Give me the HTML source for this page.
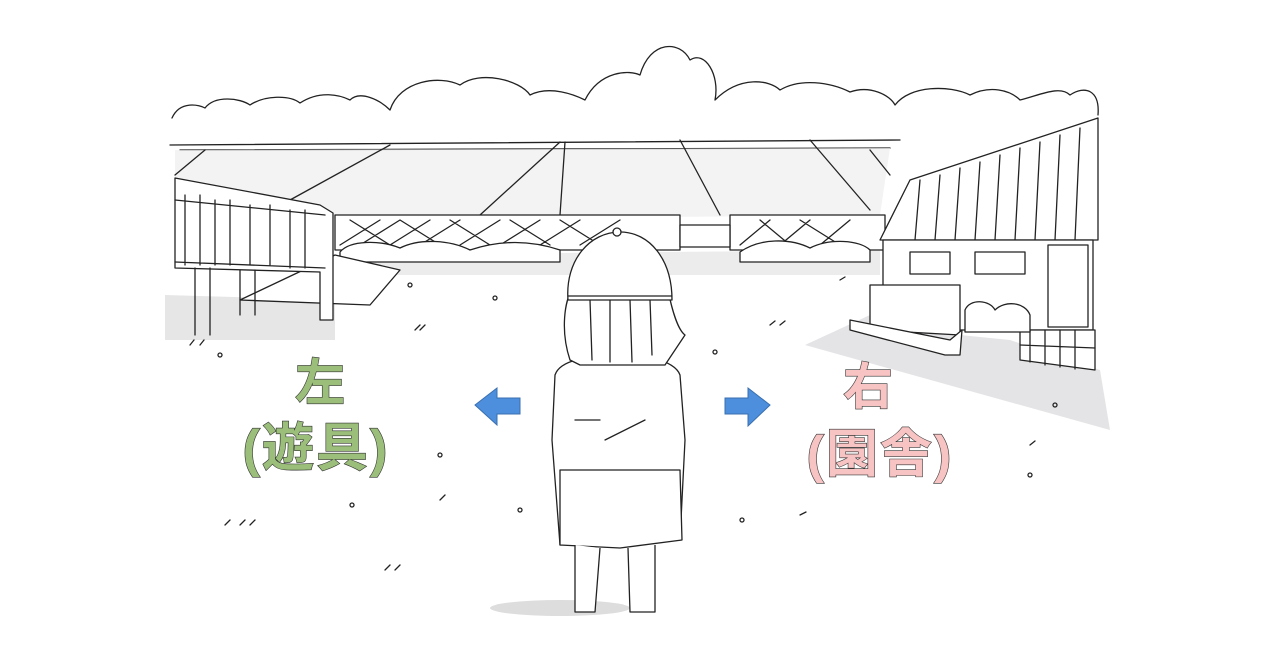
<!DOCTYPE html>
<html><head><meta charset="utf-8"><style>
html,body{margin:0;padding:0;background:#fff;width:1280px;height:670px;overflow:hidden}
svg{display:block}
.l{fill:none;stroke:#222;stroke-width:1.3;stroke-linejoin:round;stroke-linecap:round}
.w{fill:#fff;stroke:#222;stroke-width:1.3;stroke-linejoin:round}
.t{font-family:"Liberation Sans","Noto Sans CJK JP",sans-serif;font-weight:bold;stroke:#333;stroke-width:1.2;paint-order:stroke}
</style></head><body>
<svg width="1280" height="670" viewBox="0 0 1280 670">
<polygon points="165,295 335,300 335,340 165,340" fill="#e6e6e6"/>
<polygon points="805,345 870,315 960,335 1010,340 1100,370 1110,430" fill="#e4e4e6"/>
<polygon points="340,255 880,250 880,275 340,275" fill="#ececec"/>
<ellipse cx="560" cy="608" rx="70" ry="8" fill="#ddd"/>
<path class="l" d="M172,118 C180,100 200,105 205,108 C215,95 240,98 250,105 C265,95 290,95 300,103 C320,90 340,95 350,100 C360,90 380,100 390,110 C400,80 440,75 460,85 C480,70 520,80 530,95 C550,85 575,95 585,100 C600,70 630,70 640,75 C650,40 680,40 690,60 C705,50 720,75 715,100 C740,75 770,80 780,90 C800,78 830,82 850,92 C870,85 890,95 895,105 C910,85 950,85 970,95 C990,85 1010,90 1020,100 C1040,95 1060,85 1070,95 C1085,85 1100,90 1098,115"/>
<path class="l" d="M170,145 L900,140 M180,150 L890,148"/>
<polygon points="175,150 890,148 880,215 340,220 175,180" fill="#eeeeee" opacity="0.7"/>
<path class="l" d="M175,175 L205,150 M290,200 L390,145 M480,215 L560,142 M560,215 L565,142 M680,140 L720,215 M810,140 L870,210 M890,175 L870,150"/>
<rect class="w" x="335" y="215" width="345" height="35"/>
<rect class="w" x="730" y="215" width="155" height="35"/>
<rect class="w" x="680" y="225" width="50" height="22"/>
<path class="l" d="M340,245 L380,220 M360,245 L400,220 M390,245 L430,220 M420,245 L460,220 M460,245 L500,220 M500,245 L540,220 M540,245 L580,220 M580,245 L620,220 M740,245 L770,220 M780,245 L810,220 M820,245 L850,220 M350,220 L390,245 M400,220 L440,245 M450,220 L490,245 M510,220 L550,245 M560,220 L600,245 M760,220 L790,245 M800,220 L840,245"/>
<path class="w" d="M340,252 C350,240 380,240 400,248 C420,238 450,240 470,250 C500,240 530,240 560,250 L560,262 L340,262 Z"/>
<path class="w" d="M740,252 C760,238 790,238 810,248 C830,238 860,240 870,250 L870,262 L740,262 Z"/>
<path class="w" d="M335,255 L400,270 L370,305 L240,300 Z"/>
<path class="w" d="M175,178 L320,205 L333,213 L333,320 L320,320 L320,272 L175,268 Z"/>
<path class="l" d="M175,200 L325,215 M185,195 L185,265 M200,195 L200,265 M215,200 L215,265 M230,200 L230,265 M250,205 L250,265 M270,205 L270,265 M290,210 L290,268 M305,210 L305,268 M195,268 L195,335 M210,268 L210,335 M240,270 L240,315 M255,270 L255,315 M175,262 L325,268"/>
<path class="w" d="M880,240 L910,180 L1098,118 L1098,240 Z"/>
<path class="l" d="M920,180 L915,240 M940,175 L935,240 M960,168 L955,240 M980,162 L975,240 M1000,155 L995,240 M1020,148 L1015,240 M1040,142 L1035,240 M1060,135 L1055,240 M1080,128 L1075,240"/>
<rect class="w" x="883" y="240" width="210" height="90"/>
<rect class="w" x="910" y="252" width="40" height="22"/>
<rect class="w" x="975" y="252" width="50" height="22"/>
<rect class="w" x="1048" y="245" width="40" height="82"/>
<path class="w" d="M870,285 L960,285 L960,335 L870,330 Z"/>
<path class="w" d="M850,320 L950,340 L962,330 L960,355 L945,355 L850,330 Z"/>
<path class="w" d="M1020,330 L1095,330 L1095,370 L1020,360 Z"/>
<path class="l" d="M1030,330 L1030,362 M1045,330 L1045,365 M1060,330 L1060,367 M1075,330 L1075,369 M1020,345 L1095,348"/>
<path class="w" d="M965,310 C970,298 990,300 995,310 C1005,300 1025,302 1030,315 L1030,332 L965,332 Z"/>
<path class="w" d="M555,375 C560,360 590,355 610,358 C640,352 675,360 680,375 L685,440 L680,540 L560,545 L552,440 Z"/>
<path class="w" d="M560,470 L680,470 L682,540 L620,548 L560,545 Z"/>
<path class="w" d="M575,545 L575,612 L595,612 L600,548 M628,548 L630,612 L655,612 L655,545"/>
<path class="w" d="M570,360 C560,330 565,300 572,290 L668,290 C672,310 678,330 685,335 L665,365 L580,365 Z"/>
<path class="l" d="M590,300 L592,360 M610,300 L610,362 M630,300 L632,362 M650,300 L652,355"/>
<path class="w" d="M568,300 C565,260 590,232 620,232 C650,232 672,260 672,300 Z"/>
<path class="l" d="M568,296 L672,296 M575,420 L600,420 M605,440 L645,420"/>
<circle class="w" cx="617" cy="232" r="4"/>
<path d="M475,405 L497,388 L497,398 L520,398 L520,414 L497,414 L497,425 Z" fill="#4d8fdc" stroke="#3a6fb0"/>
<path d="M770,405 L748,388 L748,398 L725,398 L725,414 L748,414 L748,426 Z" fill="#4d8fdc" stroke="#3a6fb0"/>
<text class="t" x="320" y="400" font-size="50" fill="#9bbf7a" text-anchor="middle">左</text>
<text class="t" x="316" y="466" font-size="52" fill="#9bbf7a" text-anchor="middle" letter-spacing="2">(遊具)</text>
<text class="t" x="868" y="404" font-size="50" fill="#f7c3c3" text-anchor="middle">右</text>
<text class="t" x="880" y="472" font-size="52" fill="#f7c3c3" text-anchor="middle" letter-spacing="2">(園舎)</text>
<g class="l" stroke-width="1">
<path d="M415,330 l5,-5 M420,330 l5,-5 M770,325 l5,-4 M780,325 l5,-4 M225,525 l5,-5 M240,525 l5,-5 M250,525 l5,-5 M385,570 l5,-5 M395,570 l5,-5 M440,500 l5,-5 M800,515 l6,-3 M1030,445 l5,-4 M190,345 l4,-5 M200,345 l4,-5 M840,280 l5,-3"/>
<circle cx="220" cy="355" r="2"/><circle cx="440" cy="455" r="2"/><circle cx="715" cy="352" r="2"/><circle cx="1055" cy="405" r="2"/><circle cx="352" cy="505" r="2"/><circle cx="520" cy="510" r="2"/><circle cx="742" cy="520" r="2"/><circle cx="1030" cy="475" r="2"/><circle cx="495" cy="298" r="2"/><circle cx="410" cy="285" r="2"/>
</g>
</svg>
</body></html>
